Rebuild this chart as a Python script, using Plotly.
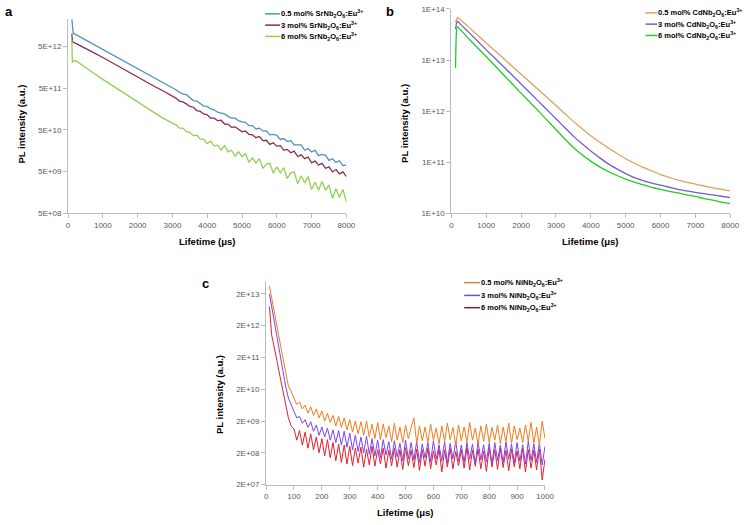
import math
import plotly.graph_objects as go

W, H = 756, 525

# ---------------- Panel a : SrNb2O6:Eu3+ ----------------
a_time = [110, 125, 150, 200, 250, 500, 750, 1000, 1250, 1500, 1750, 2000, 2250, 2500, 2750, 3000] + list(range(3100, 8001, 100))
a_sr05 = [2.2e13, 1.3e13, 1.02e13, 9.8e12, 9.3e12, 7.1e12, 5.4e12, 4.2e12, 3.2e12, 2.45e12, 1.86e12, 1.45e12, 1.1e12, 8.5e11, 6.5e11, 5.0e11,
          4.57e11, 3.98e11, 3.63e11, 3.47e11, 2.88e11, 2.51e11, 2.45e11, 2.14e11, 1.86e11, 1.82e11,
          1.58e11, 1.51e11, 1.32e11, 1.26e11, 1.2e11, 1.05e11, 9.55e10, 9.55e10, 8.3e10, 7.8e10,
          7.6e10, 6.3e10, 6.3e10, 5.25e10, 5.5e10, 4.7e10, 4.7e10, 3.8e10, 3.9e10, 3.7e10,
          2.95e10, 3.1e10, 2.63e10, 2.75e10, 2.19e10, 2.19e10, 2.19e10, 1.62e10, 1.78e10, 1.48e10,
          1.62e10, 1.2e10, 1.29e10, 1.23e10, 9.3e9, 1.02e10, 8.3e9, 9.1e9, 6.9e9, 7.2e9]
a_sr3 = [1.0e13, 6.5e12, 6.3e12, 6.0e12, 5.9e12, 4.6e12, 3.5e12, 2.7e12, 2.05e12, 1.58e12, 1.2e12, 9.3e11, 7.1e11, 5.4e11, 4.2e11, 3.16e11,
         2.88e11, 2.45e11, 2.34e11, 2.09e11, 1.82e11, 1.74e11, 1.45e11, 1.38e11, 1.2e11, 1.15e11,
         9.55e10, 9.55e10, 8.3e10, 8.5e10, 6.9e10, 6.8e10, 5.75e10, 5.9e10, 5.25e10, 4.47e10,
         4.7e10, 3.9e10, 3.8e10, 3.24e10, 3.47e10, 2.75e10, 2.82e10, 2.24e10, 2.45e10, 2.04e10,
         2.09e10, 1.62e10, 1.7e10, 1.41e10, 1.55e10, 1.15e10, 1.26e10, 1.02e10, 1.12e10, 8.1e9,
         8.9e9, 7.2e9, 7.9e9, 6.0e9, 6.5e9, 4.9e9, 5.6e9, 4.4e9, 4.9e9, 3.8e9]
a_sr6 = [7.1e12, 2.1e12, 2.15e12, 2.3e12, 2.2e12, 1.55e12, 1.12e12, 8.1e11, 5.9e11, 4.4e11, 3.16e11, 2.35e11, 1.7e11, 1.26e11, 9.3e10, 7.1e10,
         6.6e10, 5.5e10, 5.5e10, 4.57e10, 4.37e10, 3.63e10, 3.72e10, 3.02e10, 2.95e10, 2.34e10,
         2.69e10, 2.04e10, 2.14e10, 1.66e10, 2.09e10, 1.48e10, 1.62e10, 1.17e10, 1.48e10, 1.15e10,
         1.35e10, 8.3e9, 1.07e10, 8.1e9, 1.02e10, 6.0e9, 7.6e9, 7.9e9, 4.57e9, 6.5e9,
         4.68e9, 6.2e9, 3.4e9, 4.68e9, 4.9e9, 2.57e9, 3.98e9, 2.69e9, 3.8e9, 1.86e9,
         2.82e9, 1.78e9, 2.88e9, 1.78e9, 2.4e9, 1.15e9, 1.95e9, 1.2e9, 1.86e9, 9.3e8]
a_ticks = [5e8, 5e9, 5e10, 5e11, 5e12]
a_ticktext = ["5E+08", "5E+09", "5E+10", "5E+11", "5E+12"]
a_labels = ["0.5 mol% SrNb<sub>2</sub>O<sub>6</sub>:Eu<sup>3+</sup>",
            "3 mol% SrNb<sub>2</sub>O<sub>6</sub>:Eu<sup>3+</sup>",
            "6 mol% SrNb<sub>2</sub>O<sub>6</sub>:Eu<sup>3+</sup>"]

# ---------------- Panel b : CdNb2O6:Eu3+ ----------------
b_time = [120, 150, 180, 250, 500, 1000, 1500, 2000] + list(range(2500, 8001, 250))
b_cd05 = [5.5e13, 6.3e13, 6.8e13, 6.2e13, 4.4e13, 2.15e13, 1.07e13, 5.25e12,
          2.63e12, 1.84e12, 1.29e12, 9.0e11, 6.3e11, 4.52e11, 3.31e11, 2.48e11, 1.91e11, 1.48e11, 1.17e11, 9.55e10,
          7.94e10, 6.76e10, 5.75e10, 5.07e10, 4.47e10, 4.07e10, 3.72e10, 3.43e10, 3.16e10, 2.95e10, 2.75e10]
b_cd3 = [4.0e13, 5.3e13, 5.75e13, 5.1e13, 3.47e13, 1.58e13, 7.4e12, 3.4e12,
         1.55e12, 1.05e12, 7.1e11, 4.79e11, 3.24e11, 2.29e11, 1.66e11, 1.23e11, 9.3e10, 7.4e10, 6.0e10, 5.0e10,
         4.37e10, 3.89e10, 3.55e10, 3.24e10, 2.95e10, 2.75e10, 2.57e10, 2.43e10, 2.29e10, 2.16e10, 2.04e10]
b_cd6 = [7.0e12, 3.8e13, 4.5e13, 4.0e13, 2.6e13, 1.17e13, 5.1e12, 2.25e12,
         1.0e12, 6.6e11, 4.37e11, 2.88e11, 1.95e11, 1.4e11, 1.05e11, 8.1e10, 6.6e10, 5.5e10, 4.68e10, 4.07e10,
         3.63e10, 3.24e10, 2.95e10, 2.69e10, 2.51e10, 2.29e10, 2.14e10, 1.95e10, 1.82e10, 1.66e10, 1.55e10]
b_ticks = [1e10, 1e11, 1e12, 1e13, 1e14]
b_ticktext = ["1E+10", "1E+11", "1E+12", "1E+13", "1E+14"]
b_labels = ["0.5 mol% CdNb<sub>2</sub>O<sub>6</sub>:Eu<sup>3+</sup>",
            "3 mol% CdNb<sub>2</sub>O<sub>6</sub>:Eu<sup>3+</sup>",
            "6 mol% CdNb<sub>2</sub>O<sub>6</sub>:Eu<sup>3+</sup>"]

# ---------------- Panel c : NiNb2O6:Eu3+ ----------------
c_time = [12, 15, 20, 25, 30, 40, 50, 60, 70, 80, 90] + list(range(100, 1001, 10))
c_ni05 = [3.5e13, 2.5e13, 1.4e13, 7.9e12, 4.5e12, 1.8e12, 5.6e11, 2.0e11, 7.1e10, 2.5e10, 1.7e10,
          1.1e10, 6.6e9, 7.9e9, 4.8e9, 6.3e9, 3.5e9, 5.6e9, 3.0e9, 4.8e9, 2.5e9,
          4.2e9, 2.0e9, 3.5e9, 1.8e9, 3.0e9, 1.4e9, 2.8e9, 1.26e9, 2.5e9, 1.05e9,
          2.2e9, 8.9e8, 2.0e9, 7.9e8, 1.9e9, 7.1e8, 2.0e9, 6.3e8, 1.6e9, 5.6e8,
          1.8e9, 5.2e8, 1.6e9, 6.0e8, 1.4e9, 4.5e8, 1.7e9, 5.0e8, 1.3e9, 4.2e8,
          1.5e9, 5.6e8, 1.26e9, 2.5e9, 4.0e8, 1.4e9, 4.8e8, 1.3e9, 4.2e8, 1.6e9,
          5.0e8, 1.2e9, 3.8e8, 1.4e9, 4.5e8, 1.7e9, 5.2e8, 1.26e9, 3.5e8, 1.5e9,
          4.8e8, 1.3e9, 4.2e8, 1.8e9, 5.0e8, 1.2e9, 3.8e8, 1.4e9, 4.6e8, 1.6e9,
          4.2e8, 1.26e9, 5.0e8, 1.5e9, 3.8e8, 1.3e9, 4.5e8, 1.7e9, 4.0e8, 1.4e9,
          5.2e8, 1.2e9, 4.2e8, 1.5e9, 4.6e8, 1.8e9, 4.0e8, 1.3e9, 3.5e8, 2.0e9, 5.6e8]
c_ni3 = [2.0e13, 1.4e13, 8.9e12, 5.0e12, 2.8e12, 7.9e11, 2.2e11, 6.3e10, 2.5e10, 1.05e10, 6.6e9,
         4.2e9, 2.5e9, 2.8e9, 1.7e9, 2.2e9, 1.26e9, 1.9e9, 9.5e8, 1.5e9, 7.1e8,
         1.3e9, 6.3e8, 1.2e9, 5.0e8, 1.05e9, 4.2e8, 1.0e9, 3.5e8, 9.5e8, 3.0e8,
         8.3e8, 2.5e8, 7.1e8, 2.2e8, 6.3e8, 2.0e8, 6.6e8, 1.8e8, 5.6e8, 1.6e8,
         5.0e8, 1.4e8, 5.2e8, 1.7e8, 4.5e8, 1.26e8, 4.8e8, 1.5e8, 4.0e8, 1.12e8,
         5.0e8, 1.3e8, 4.2e8, 1.2e8, 4.6e8, 1.0e8, 3.8e8, 1.4e8, 4.2e8, 1.05e8,
         4.8e8, 1.26e8, 3.6e8, 1.12e8, 4.4e8, 9.5e7, 4.0e8, 1.3e8, 4.6e8, 1.1e8,
         3.5e8, 1.0e8, 4.2e8, 1.26e8, 3.8e8, 8.9e7, 4.5e8, 1.2e8, 3.6e8, 1.05e8,
         4.0e8, 9.1e7, 4.2e8, 1.15e8, 3.5e8, 1.0e8, 4.4e8, 1.26e8, 3.8e8, 9.5e7,
         4.2e8, 1.1e8, 3.6e8, 8.9e7, 4.6e8, 1.15e8, 3.8e8, 1.0e8, 4.2e8, 8.3e7, 3.2e8]
c_ni6 = [7.9e12, 3.2e12, 1.0e12, 6.3e11, 3.5e11, 1.4e11, 5.0e10, 1.8e10, 6.3e9, 2.5e9, 1.4e9,
         1.12e9, 5.0e8, 1.0e9, 3.5e8, 8.9e8, 2.8e8, 7.9e8, 2.5e8, 6.3e8, 2.0e8,
         5.6e8, 1.6e8, 5.2e8, 1.4e8, 4.2e8, 1.12e8, 3.8e8, 1.0e8, 3.5e8, 8.9e7,
         3.2e8, 7.9e7, 2.8e8, 9.5e7, 3.0e8, 7.1e7, 2.6e8, 8.3e7, 3.2e8, 7.6e7,
         2.5e8, 8.9e7, 2.8e8, 6.6e7, 2.4e8, 7.9e7, 2.75e8, 7.1e7, 2.5e8, 6.0e7,
         2.9e8, 7.9e7, 2.4e8, 6.9e7, 2.6e8, 5.6e7, 2.5e8, 7.6e7, 2.8e8, 6.3e7,
         2.3e8, 8.3e7, 2.6e8, 5.0e7, 2.4e8, 7.2e7, 2.75e8, 6.3e7, 2.2e8, 7.9e7,
         2.5e8, 6.6e7, 2.9e8, 5.8e7, 2.4e8, 7.6e7, 2.6e8, 6.3e7, 2.3e8, 5.2e7,
         2.75e8, 7.2e7, 2.5e8, 6.0e7, 2.8e8, 6.9e7, 2.4e8, 5.5e7, 2.6e8, 7.2e7,
         2.3e8, 6.3e7, 2.75e8, 5.0e7, 2.5e8, 6.6e7, 2.4e8, 5.8e7, 2.6e8, 2.8e7, 1.26e8]
c_ticks = [2e7, 2e8, 2e9, 2e10, 2e11, 2e12, 2e13]
c_ticktext = ["2E+07", "2E+08", "2E+09", "2E+10", "2E+11", "2E+12", "2E+13"]
c_labels = ["0.5 mol% NiNb<sub>2</sub>O<sub>6</sub>:Eu<sup>3+</sup>",
            "3 mol% NiNb<sub>2</sub>O<sub>6</sub>:Eu<sup>3+</sup>",
            "6 mol% NiNb<sub>2</sub>O<sub>6</sub>:Eu<sup>3+</sup>"]

for t, ys in [(a_time, [a_sr05, a_sr3, a_sr6]), (b_time, [b_cd05, b_cd3, b_cd6]), (c_time, [c_ni05, c_ni3, c_ni6])]:
    for y in ys:
        assert len(y) == len(t), (len(y), len(t))

# ---------------- styling ----------------
A_COLS = ["#4f90c8", "#8e2a50", "#92d050"]
B_COLS = ["#e0a060", "#6f5fd0", "#22cc22"]
C_COLS = ["#f07c1c", "#7a44ee", "#e3202c"]
C_LEG = ["#cf8348", "#6a50d8", "#8b1a3a"]
AX = "#b4bec8"
TICKF = dict(family="Liberation Sans Narrow, Liberation Sans, Arial", size=8, color="#595959")
TITLEF = dict(family="Liberation Sans, Arial", size=9.5, color="#000000")


def px(x):
    return x / W


def py(y):
    return 1 - y / H


fig = go.Figure()

for y, col in zip([a_sr05, a_sr3, a_sr6], A_COLS):
    fig.add_trace(go.Scatter(x=a_time, y=y, mode="lines", line=dict(color=col, width=1.3),
                             xaxis="x", yaxis="y", showlegend=False))
for y, col in zip([b_cd05, b_cd3, b_cd6], B_COLS):
    fig.add_trace(go.Scatter(x=b_time, y=y, mode="lines", line=dict(color=col, width=1.3, shape="spline", smoothing=0.6),
                             xaxis="x2", yaxis="y2", showlegend=False))
for y, col in zip([c_ni6, c_ni3, c_ni05], [C_COLS[2], C_COLS[1], C_COLS[0]]):
    fig.add_trace(go.Scatter(x=c_time, y=y, mode="lines", line=dict(color=col, width=1),
                             xaxis="x3", yaxis="y3", showlegend=False))

common = dict(showline=True, linecolor=AX, linewidth=1, ticks="outside", ticklen=4, tickcolor=AX,
              showgrid=False, zeroline=False, tickfont=TICKF)

fig.update_layout(
    width=W, height=H, margin=dict(l=0, r=0, t=0, b=0),
    paper_bgcolor="white", plot_bgcolor="white", showlegend=False,
    xaxis=dict(domain=[px(67), px(349.5)], range=[0, 8000], tick0=0, dtick=1000, tickformat="d",
               anchor="y", **common),
    yaxis=dict(domain=[py(213), py(15)], type="log", range=[math.log10(5e8), 13.36],
               tickvals=a_ticks, ticktext=a_ticktext, anchor="x", **common),
    xaxis2=dict(domain=[px(456), px(739)], range=[0, 8000], tick0=0, dtick=1000, tickformat="d",
                anchor="y2", **common),
    yaxis2=dict(domain=[py(213), py(5)], type="log", range=[10, 14],
                tickvals=b_ticks, ticktext=b_ticktext, anchor="x2", **common),
    xaxis3=dict(domain=[px(268), px(551)], range=[0, 1000], tick0=0, dtick=100, tickformat="d",
                anchor="y3", **common),
    yaxis3=dict(domain=[py(489), py(282)], type="log", range=[math.log10(2e7), 13.70],
                tickvals=c_ticks, ticktext=c_ticktext, anchor="x3", **common),
)

ann = []
shapes = []


def text(x, y, s, size=9.5, xanchor="center", yanchor="middle", angle=0):
    f = dict(TITLEF)
    f["size"] = size
    ann.append(dict(x=px(x), y=py(y), xref="paper", yref="paper", text=s, showarrow=False,
                    xanchor=xanchor, yanchor=yanchor, textangle=angle, font=f, borderpad=0))


# panel letters
text(7, 8, "<b>a</b>", size=13)
text(394, 8, "<b>b</b>", size=13)
text(207, 284, "<b>c</b>", size=13)

# axis titles
text(208.5, 242, "<b>Lifetime (μs)</b>")
text(597.5, 242, "<b>Lifetime (μs)</b>")
text(409.5, 517, "<b>Lifetime (μs)</b>")
text(20, 122, "<b>PL intensity (a.u.)</b>", angle=-90)
text(409, 122, "<b>PL intensity (a.u.)</b>", angle=-90)
text(220, 397, "<b>PL intensity (a.u.)</b>", angle=-90)


def legend(x0, x1, ys, labels, cols):
    for yy, lab, col in zip(ys, labels, cols):
        shapes.append(dict(type="line", xref="paper", yref="paper", x0=px(x0), x1=px(x1),
                           y0=py(yy), y1=py(yy), line=dict(color=col, width=1.5)))
        text(x1, yy, "<b>" + lab + "</b>", size=7.5, xanchor="left")


legend(267, 282, [10, 21.5, 33], a_labels, A_COLS)
legend(653, 665, [9, 20.5, 32], b_labels, B_COLS)
legend(469, 485, [283.5, 296.5, 309], c_labels, C_LEG)

fig.update_layout(annotations=ann, shapes=shapes)
fig.write_html("out.html",
               config={"displayModeBar": False, "staticPlot": True},
               post_script="document.body.style.margin='0';document.body.style.padding='0';"
                           "document.body.style.overflow='hidden';")
